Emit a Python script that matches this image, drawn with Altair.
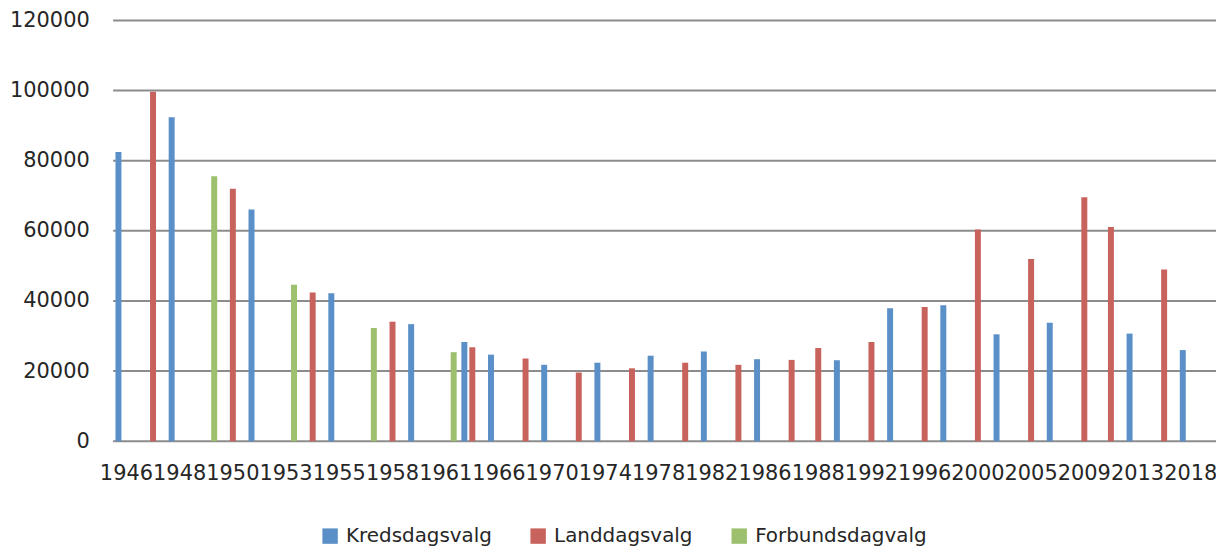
import altair as alt
import pandas as pd

# Category axis: union of all election years (41 categories)
categories = [1946, 1947, 1948, 1949, 1950, 1951, 1953, 1954, 1955, 1957, 1958, 1959,
              1961, 1962, 1966, 1967, 1970, 1971, 1974, 1975, 1978, 1979, 1982, 1983,
              1986, 1987, 1988, 1990, 1992, 1994, 1996, 1998, 2000, 2003, 2005, 2008,
              2009, 2012, 2013, 2017, 2018]
# Excel only shows every second label
label_years = [1946, 1948, 1950, 1953, 1955, 1958, 1961, 1966, 1970, 1974, 1978,
               1982, 1986, 1988, 1992, 1996, 2000, 2005, 2009, 2013, 2018]

series = ["Kredsdagsvalg", "Landdagsvalg", "Forbundsdagvalg"]
colors = ["#5A8FC8", "#C8625D", "#9CC06E"]

kreds_years = [1946, 1948, 1951, 1955, 1959, 1962, 1966, 1970, 1974, 1978, 1982,
               1986, 1990, 1994, 1998, 2003, 2008, 2013, 2018]
kreds_votes = [82500, 92400, 66100, 42200, 33400, 28300, 24700, 21800, 22400, 24400,
               25600, 23400, 23100, 37900, 38800, 30500, 33800, 30700, 26000]

landdag_years = [1947, 1950, 1954, 1958, 1962, 1967, 1971, 1975, 1979, 1983, 1987,
                 1988, 1992, 1996, 2000, 2005, 2009, 2012, 2017]
landdag_votes = [99700, 72000, 42400, 34100, 26800, 23600, 19600, 20800, 22400, 21800,
                 23200, 26600, 28300, 38300, 60400, 52000, 69600, 61100, 49000]

forbund_years = [1949, 1953, 1957, 1961]
forbund_votes = [75600, 44600, 32300, 25400]

y_ticks = [0, 20000, 40000, 60000, 80000, 100000, 120000]

rows = []
for name, yrs, vals in [(series[0], kreds_years, kreds_votes),
                        (series[1], landdag_years, landdag_votes),
                        (series[2], forbund_years, forbund_votes)]:
    for yr, v in zip(yrs, vals):
        rows.append({"year": str(yr), "series": name, "votes": v})
df = pd.DataFrame(rows)
grid_df = pd.DataFrame({"votes": y_ticks})

cat_str = [str(c) for c in categories]
lab_str = [str(c) for c in label_years]

FONT = "DejaVu Sans"
TXT = "#262626"
GRID = "#8C8C8C"

y_enc = alt.Y(
    "votes:Q",
    scale=alt.Scale(domain=[0, 120000]),
    axis=alt.Axis(
        values=y_ticks, format="d", title=None, ticks=False, tickSize=0,
        domain=False, grid=False,
        labelPadding=24, labelFont=FONT, labelFontSize=21, labelColor=TXT,
    ),
)

gridlines = alt.Chart(grid_df).mark_rule(color=GRID, strokeWidth=2).encode(
    y=y_enc,
    x=alt.value(0),
    x2=alt.value(1110),
)

bars = alt.Chart(df).mark_bar().encode(
    x=alt.X(
        "year:N",
        sort=cat_str,
        scale=alt.Scale(domain=cat_str, range=[0, 1096], paddingInner=0, paddingOuter=0),
        axis=alt.Axis(
            values=lab_str, title=None, labelAngle=0, ticks=False, tickSize=0,
            domain=False, labelPadding=21, labelFont=FONT,
            labelFontSize=21, labelColor=TXT, labelOverlap=False, labelBound=False,
            grid=False,
        ),
    ),
    xOffset=alt.XOffset(
        "series:N",
        scale=alt.Scale(domain=series, paddingInner=0.25, paddingOuter=0.296),
    ),
    y=y_enc,
    color=alt.Color(
        "series:N",
        scale=alt.Scale(domain=series, range=colors),
        legend=alt.Legend(
            title=None, orient="none", legendX=208, legendY=508,
            direction="horizontal", symbolType="square", symbolSize=240,
            symbolStrokeWidth=0, labelFont=FONT, labelFontSize=20, labelLimit=0,
            labelColor=TXT, labelOffset=6, columnPadding=36, padding=0,
        ),
    ),
)

chart = alt.layer(gridlines, bars).properties(
    width=1108,
    height=422.7,
    background="white",
    autosize=alt.AutoSizeParams(type="none"),
    padding={"left": 105.6, "top": 11.3, "right": 0, "bottom": 106},
).configure_view(stroke=None, strokeWidth=0)

chart.save("out.html", embed_options={"renderer": "svg", "actions": False})
